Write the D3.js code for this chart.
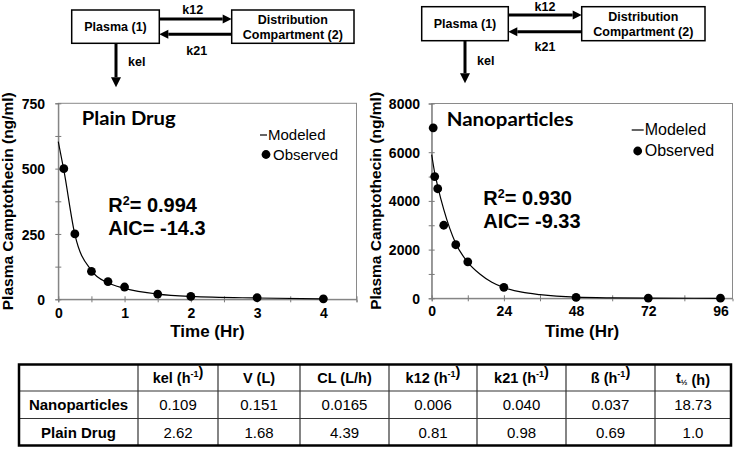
<!DOCTYPE html>
<html><head><meta charset="utf-8">
<script src="https://cdn.jsdelivr.net/npm/d3@7"></script>
<style>body{margin:0;background:#fff}svg{display:block}</style>
</head><body>
<svg id="c" width="750" height="452"></svg>
<script>
// ---------- data ----------
const plainObsTime  = [0.083, 0.25, 0.5, 0.75, 1, 1.5, 2, 3, 4];
const plainObsConc  = [500, 250, 107, 68, 47, 20, 11, 6, 2];
const plainModelTime = [0, 0.083, 0.25, 0.5, 0.75, 1, 1.5, 2, 3, 4];
const plainModelConc = [603, 495, 248, 110, 63, 42, 20, 11, 5, 2];
const plainXTicks = [0, 1, 2, 3, 4];
const plainXMinor = [0, 0.5, 1, 1.5, 2, 2.5, 3, 3.5, 4, 4.5];
const plainYTicks = [0, 250, 500, 750];
const plainYMinor = [0, 125, 250, 375, 500, 625, 750];

const nanoObsTime  = [0.5, 1, 2, 4, 8, 12, 24, 48, 72, 96];
const nanoObsConc  = [7000, 5000, 4500, 3000, 2200, 1500, 450, 35, 10, 5];
const nanoModelTime = [0, 1, 2, 4, 8, 12, 16, 20, 24, 30, 36, 48, 60, 72, 96];
const nanoModelConc = [5900, 5150, 4600, 3650, 2250, 1480, 1000, 660, 440, 250, 150, 45, 15, 5, 1];
const nanoXTicks = [0, 24, 48, 72, 96];
const nanoXMinor = [0, 12, 24, 36, 48, 60, 72, 84, 96];
const nanoYTicks = [0, 2000, 4000, 6000, 8000];
const nanoYMinor = [0, 1000, 2000, 3000, 4000, 5000, 6000, 7000, 8000];

const tableHeaders = ["", "kel (h^{-1})", "V (L)", "CL (L/h)", "k12 (h^{-1})", "k21 (h^{-1})", "ß (h^{-1})", "t_{½} (h)"];
const rowLabels = ["Nanoparticles", "Plain Drug"];
const nanoParams  = ["0.109", "0.151", "0.0165", "0.006", "0.040", "0.037", "18.73"];
const plainParams = ["2.62", "1.68", "4.39", "0.81", "0.98", "0.69", "1.0"];

// ---------- drawing ----------
const svg = d3.select("#c");
const F = "'Liberation Sans', Arial, sans-serif";

function panel(c) {
  const x = d3.scaleLinear().domain(c.xDomain).range([c.left, c.right]);
  const y = d3.scaleLinear().domain(c.yDomain).range([c.bottom, c.top]);
  const g = svg.append("g");
  g.append("rect").attr("x", c.left).attr("y", c.top)
    .attr("width", c.right - c.left).attr("height", c.bottom - c.top)
    .attr("fill", "none").attr("stroke", "#8a8a8a").attr("stroke-width", 1);

  // cross ticks
  const ym = g.append("g").attr("transform", `translate(${c.left},0)`)
    .call(d3.axisLeft(y).tickValues(c.yMinor).tickSize(3).tickFormat(""));
  ym.select(".domain").attr("stroke", "#7a7a7a");
  ym.selectAll(".tick line").attr("x1", 3).attr("stroke", "#7a7a7a");
  const xm = g.append("g").attr("transform", `translate(0,${c.bottom})`)
    .call(d3.axisBottom(x).tickValues(c.xMinor).tickSize(3).tickFormat(""));
  xm.select(".domain").attr("stroke", "#7a7a7a");
  xm.selectAll(".tick line").attr("y1", -3).attr("stroke", "#7a7a7a");

  // labels
  const yl = g.append("g").attr("transform", `translate(${c.left},0)`)
    .call(d3.axisLeft(y).tickValues(c.yTicks).tickSize(0).tickFormat(d3.format("d")));
  yl.select(".domain").remove();
  yl.selectAll(".tick text").attr("x", c.yLabelEnd - c.left).attr("dy", "0.36em")
    .attr("font-family", F).attr("font-weight", "bold").attr("font-size", c.tickFont).attr("fill", "#000");
  const xl = g.append("g").attr("transform", `translate(0,${c.bottom})`)
    .call(d3.axisBottom(x).tickValues(c.xTicks).tickSize(0).tickFormat(d3.format("d")));
  xl.select(".domain").remove();
  xl.selectAll(".tick text").attr("y", c.xLabelBase - c.bottom).attr("dy", 0)
    .attr("font-family", F).attr("font-weight", "bold").attr("font-size", c.tickFont).attr("fill", "#000");

  // axis titles
  g.append("text").attr("x", (c.left + c.right) / 2).attr("y", c.xTitleBase)
    .attr("text-anchor", "middle").attr("font-family", F).attr("font-weight", "bold")
    .attr("font-size", 17).text("Time (Hr)");
  g.append("text").attr("transform", `translate(${c.yTitleX},${(c.top + c.bottom) / 2}) rotate(-90)`)
    .attr("text-anchor", "middle").attr("font-family", F).attr("font-weight", "bold")
    .attr("font-size", 15.5).text("Plasma Camptothecin (ng/ml)");

  // model line
  const pts = c.mT.map((t, i) => [t, c.mC[i]]);
  g.append("path").datum(pts)
    .attr("d", d3.line().x(d => x(d[0])).y(d => y(d[1])).curve(d3.curveMonotoneX))
    .attr("fill", "none").attr("stroke", "#000").attr("stroke-width", 1.2);
  // observed
  g.selectAll("circle.obs").data(c.oT.map((t, i) => [t, c.oC[i]])).enter()
    .append("circle").attr("class", "obs")
    .attr("cx", d => x(d[0])).attr("cy", d => y(d[1])).attr("r", 4.4).attr("fill", "#000");

  // title
  g.append("text").attr("x", c.titleX).attr("y", c.titleY)
    .attr("font-family", "Lato, 'Open Sans', sans-serif").attr("font-weight", "bold")
    .attr("font-size", 19).attr("textLength", c.titleLen).attr("lengthAdjust", "spacingAndGlyphs")
    .text(c.title);

  // legend
  g.append("line").attr("x1", c.legX - 6).attr("x2", c.legX + c.dashLen - 6)
    .attr("y1", c.legY1 - 5).attr("y2", c.legY1 - 5).attr("stroke", "#000").attr("stroke-width", 1.2);
  g.append("text").attr("x", c.legX + c.dashLen - 5).attr("y", c.legY1)
    .attr("font-family", F).attr("font-size", c.legFont).text("Modeled");
  g.append("circle").attr("cx", c.legX).attr("cy", c.legY2 - 5).attr("r", 4.4).attr("fill", "#000");
  g.append("text").attr("x", c.legX + 7).attr("y", c.legY2)
    .attr("font-family", F).attr("font-size", c.legFont).text("Observed");

  // stats
  const s1 = g.append("text").attr("x", c.statX).attr("y", c.statY1)
    .attr("font-family", F).attr("font-weight", "bold").attr("font-size", 20);
  s1.append("tspan").text("R");
  s1.append("tspan").attr("font-size", 12.5).attr("dy", -7).text("2");
  s1.append("tspan").attr("dy", 7).text("= " + c.r2);
  g.append("text").attr("x", c.statX).attr("y", c.statY2)
    .attr("font-family", F).attr("font-weight", "bold").attr("font-size", 20)
    .text("AIC= " + c.aic);
}

panel({
  xDomain: [0, 4.5], yDomain: [0, 750], left: 58.3, right: 356.5, top: 103.3, bottom: 299.3,
  xTicks: plainXTicks, xMinor: plainXMinor, yTicks: plainYTicks, yMinor: plainYMinor,
  yLabelEnd: 45, xLabelBase: 318, tickFont: 14, xTitleBase: 337, yTitleX: 13,
  mT: plainModelTime, mC: plainModelConc, oT: plainObsTime, oC: plainObsConc,
  title: "Plain Drug", titleX: 81.7, titleY: 125, titleLen: 94,
  legX: 266, legY1: 140, legY2: 159.5, dashLen: 7, legFont: 15,
  statX: 108.3, statY1: 211.7, statY2: 235, r2: "0.994", aic: "-14.3"
});
panel({
  xDomain: [0, 100], yDomain: [0, 8000], left: 431.7, right: 732.5, top: 103.5, bottom: 298.3,
  xTicks: nanoXTicks, xMinor: nanoXMinor, yTicks: nanoYTicks, yMinor: nanoYMinor,
  yLabelEnd: 420, xLabelBase: 316, tickFont: 14, xTitleBase: 337, yTitleX: 381,
  mT: nanoModelTime, mC: nanoModelConc, oT: nanoObsTime, oC: nanoObsConc,
  title: "Nanoparticles", titleX: 446.7, titleY: 126, titleLen: 126.7,
  legX: 637.7, legY1: 135, legY2: 156, dashLen: 12, legFont: 16,
  statX: 483.3, statY1: 205, statY2: 228.3, r2: "0.930", aic: "-9.33"
});

// ---------- compartment diagrams ----------
function arrowH(g, x1, x2, y) {
  const dir = Math.sign(x2 - x1), hl = 9, hw = 4.5;
  g.append("line").attr("x1", x1).attr("x2", x2 - dir * hl).attr("y1", y).attr("y2", y)
    .attr("stroke", "#000").attr("stroke-width", 3);
  g.append("path").attr("d", `M${x2},${y} L${x2 - dir * hl},${y - hw} L${x2 - dir * hl},${y + hw} Z`).attr("fill", "#000");
}
function arrowV(g, x, y1, y2) {
  const hl = 10, hw = 5;
  g.append("line").attr("x1", x).attr("x2", x).attr("y1", y1).attr("y2", y2 - hl)
    .attr("stroke", "#000").attr("stroke-width", 3);
  g.append("path").attr("d", `M${x},${y2} L${x - hw},${y2 - hl} L${x + hw},${y2 - hl} Z`).attr("fill", "#000");
}
function diagram(d) {
  const g = svg.append("g").attr("font-family", F).attr("font-weight", "bold").attr("font-size", 12.5);
  g.append("rect").attr("x", d.b1[0]).attr("y", d.top).attr("width", d.b1[1] - d.b1[0]).attr("height", d.bot - d.top)
    .attr("fill", "#fff").attr("stroke", "#000").attr("stroke-width", 1.5);
  g.append("rect").attr("x", d.b2[0]).attr("y", d.top).attr("width", d.b2[1] - d.b2[0]).attr("height", d.bot - d.top)
    .attr("fill", "#fff").attr("stroke", "#000").attr("stroke-width", 1.5);
  const mid = (d.top + d.bot) / 2;
  g.append("text").attr("x", (d.b1[0] + d.b1[1]) / 2).attr("y", mid + 4.5).attr("text-anchor", "middle").text("Plasma (1)");
  g.append("text").attr("x", (d.b2[0] + d.b2[1]) / 2).attr("y", mid - 3).attr("text-anchor", "middle").text("Distribution");
  g.append("text").attr("x", (d.b2[0] + d.b2[1]) / 2).attr("y", mid + 12).attr("text-anchor", "middle").text("Compartment (2)");
  arrowH(g, d.b1[1], d.b2[0], d.aTop);
  arrowH(g, d.b2[0], d.b1[1], d.aBot);
  arrowV(g, d.vx, d.bot, d.vTip);
  g.append("text").attr("x", d.k12x).attr("y", d.k12y).attr("text-anchor", "middle").text("k12");
  g.append("text").attr("x", d.k21x).attr("y", d.k21y).attr("text-anchor", "middle").text("k21");
  g.append("text").attr("x", d.vx + 12).attr("y", d.kely).text("kel");
}
diagram({ b1: [71.7, 159.3], b2: [231.7, 354], top: 10, bot: 43.3, aTop: 19, aBot: 34.3,
  vx: 116, vTip: 87.3, k12x: 192.7, k12y: 13.8, k21x: 196.7, k21y: 54.5, kely: 66 });
diagram({ b1: [421.7, 508.3], b2: [581.7, 705], top: 6.7, bot: 40.7, aTop: 15, aBot: 31.7,
  vx: 465, vTip: 83.3, k12x: 545, k12y: 10.5, k21x: 545, k21y: 51, kely: 64.5 });

// ---------- table ----------
const colEdges = [19, 138, 218, 300, 389, 477, 566, 655, 731];
const rowEdges = [364.5, 391, 418.5, 445.5];
const tg = svg.append("g").attr("font-family", F);
rowEdges.slice(1, -1).forEach(yv => tg.append("line").attr("x1", colEdges[0]).attr("x2", colEdges[colEdges.length - 1])
  .attr("y1", yv).attr("y2", yv).attr("stroke", "#333").attr("stroke-width", 1.2));
colEdges.slice(1, -1).forEach(xv => tg.append("line").attr("x1", xv).attr("x2", xv)
  .attr("y1", rowEdges[0]).attr("y2", rowEdges[rowEdges.length - 1]).attr("stroke", "#333").attr("stroke-width", 1.2));
tg.append("rect").attr("x", colEdges[0]).attr("y", rowEdges[0])
  .attr("width", colEdges[colEdges.length - 1] - colEdges[0]).attr("height", rowEdges[rowEdges.length - 1] - rowEdges[0])
  .attr("fill", "none").attr("stroke", "#000").attr("stroke-width", 2.5);

function richText(t, str) {
  const re = /(\^\{[^}]*\}|_\{[^}]*\})/;
  str.split(re).filter(s => s.length).forEach(part => {
    if (part.startsWith("^{")) {
      t.append("tspan").attr("font-size", 9).attr("dy", -6).text(part.slice(2, -1));
      t.append("tspan").attr("dy", 6).text("");
    } else if (part.startsWith("_{")) {
      t.append("tspan").attr("font-size", 8).attr("dy", 2).text(part.slice(2, -1));
      t.append("tspan").attr("dy", -2).text("");
    } else t.append("tspan").text(part);
  });
}
const cx = i => (colEdges[i] + colEdges[i + 1]) / 2;
const cy = r => (rowEdges[r] + rowEdges[r + 1]) / 2;
tableHeaders.forEach((h, i) => {
  if (!h) return;
  const t = tg.append("text").attr("x", cx(i)).attr("y", cy(0) + 5).attr("text-anchor", "middle")
    .attr("font-weight", "bold").attr("font-size", 14.5);
  richText(t, h);
});
rowLabels.forEach((l, r) => tg.append("text").attr("x", cx(0)).attr("y", cy(r + 1) + 5.5)
  .attr("text-anchor", "middle").attr("font-weight", "bold").attr("font-size", 15).text(l));
[nanoParams, plainParams].forEach((row, r) => row.forEach((v, i) =>
  tg.append("text").attr("x", cx(i + 1)).attr("y", cy(r + 1) + 5.5).attr("text-anchor", "middle")
    .attr("font-size", 15).text(v)));
</script>
</body></html>
